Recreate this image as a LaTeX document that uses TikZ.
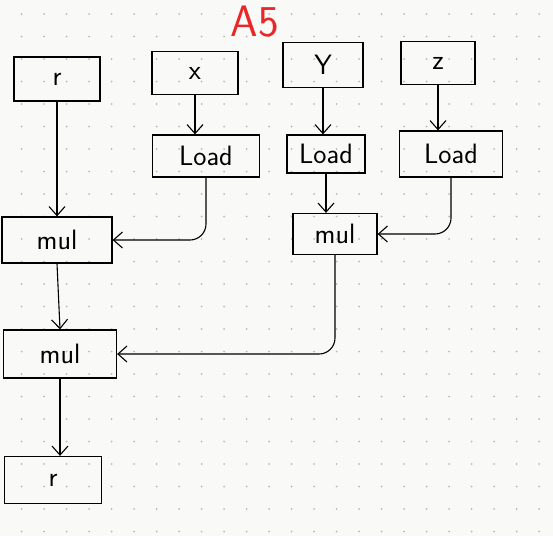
\documentclass[tikz,border=0pt]{standalone}
\usetikzlibrary{arrows.meta}
\definecolor{paper}{RGB}{249,249,247}
\definecolor{griddot}{RGB}{185,185,185}
\definecolor{inkred}{RGB}{232,40,40}
\tikzset{
  op/.style={draw, line width=1.3pt, inner sep=0pt, font=\sffamily\fontsize{28}{28}\selectfont},
  flow/.style={line width=1.1pt, -{Straight Barb[length=9pt,width=16pt]}},
}
\begin{document}
\begin{tikzpicture}[x=1pt, y=-1pt]
\fill [paper] (0,0) rectangle (553,536);
\useasboundingbox (0,0) rectangle (553,536);
\foreach \i in {0,...,23} {
  \foreach \j in {0,...,23} {
    \fill [griddot] ({21.7+22.5*\i}, {14+22.5*\j}) circle (1pt);
  }
}
\node [text=inkred, font=\sffamily\fontsize{44}{44}\selectfont] (title) at (255,22) {A5};
% inputs
\node [op, minimum width=86pt, minimum height=44pt] (r) at (57,79) {r};
\node [op, minimum width=86pt, minimum height=43pt] (x) at (195,73) {x};
\node [op, minimum width=80pt, minimum height=45pt] (Y) at (323,65) {Y};
\node [op, minimum width=74pt, minimum height=43pt] (z) at (438,63) {z};
% loads
\node [op, minimum width=107pt, minimum height=42pt] (loadx) at (206,156) {Load};
\node [op, minimum width=78pt, minimum height=38pt] (loady) at (326,154) {Load};
\node [op, minimum width=103pt, minimum height=46pt] (loadz) at (451,154) {Load};
% multiplies
\node [op, minimum width=110pt, minimum height=46pt] (mulA) at (57,240) {mul};
\node [op, minimum width=84pt, minimum height=41pt] (mulB) at (335,234) {mul};
\node [op, minimum width=113pt, minimum height=48pt] (mulC) at (60,354) {mul};
\node [op, minimum width=97pt, minimum height=47pt] (rout) at (53,480) {r};
% edges
\draw [flow] (r.south) -- (mulA.north);
\draw [flow] (x.south) -- (x.south |- loadx.north);
\draw [flow] (Y.south) -- (Y.south |- loady.north);
\draw [flow] (z.south) -- (z.south |- loadz.north);
\draw [flow] (loady.south) -- (loady.south |- mulB.north);
\draw [flow, rounded corners=16pt] (loadx.south) |- (mulA.east);
\draw [flow, rounded corners=16pt] (loadz.south) |- (mulB.east);
\draw [flow, rounded corners=16pt] (mulB.south) |- (mulC.east);
\draw [flow] (mulA.south) -- (mulC.north);
\draw [flow] (mulC.south) -- (mulC.south |- rout.north);
\end{tikzpicture}
\end{document}
